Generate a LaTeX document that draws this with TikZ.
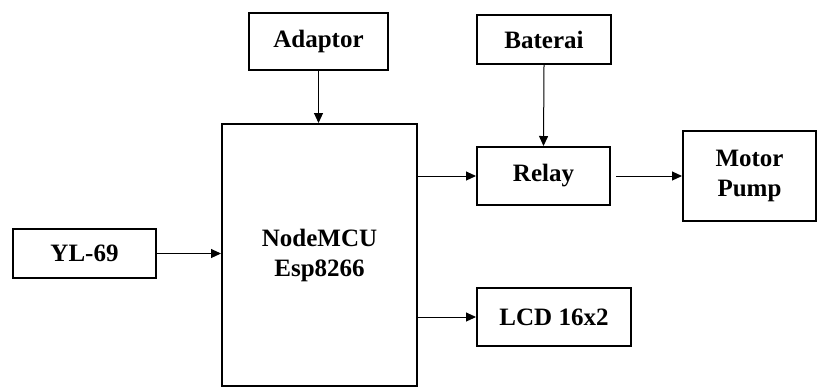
\documentclass[tikz,border=0pt]{standalone}
\usepackage{fontspec}
\setmainfont{Liberation Serif}
\usetikzlibrary{arrows.meta}
\tikzset{
  blok/.style={draw, line width=1pt, inner sep=0pt, align=center,
    font=\fontsize{12.5}{15}\selectfont\bfseries},
  ukuran/.style 2 args={minimum width=#1*0.5pt, minimum height=#2*0.5pt},
  panah/.style={line width=0.5pt, -{Triangle[length=5pt,width=4.5pt]}},
}
\begin{document}
\begin{tikzpicture}[x=0.5pt,y=-0.5pt]
  \useasboundingbox (0,0) rectangle (817,388);
  % blocks (centre, then width/height in px)
  \node[blok, ukuran={139}{57}] (adaptor) at (318.5,41.5) {Adaptor};
  \node[blok, ukuran={195}{262}] (mcu) at (319.5,255) {NodeMCU\\Esp8266};
  \node[blok, ukuran={143}{49}] (yl) at (84.5,253.5) {YL-69};
  \node[blok, ukuran={134}{49}] (baterai) at (544,39.5) {Baterai};
  \node[blok, ukuran={133}{58}] (relay) at (543.5,176) {Relay};
  \node[blok, ukuran={133}{90}] (motor) at (749.5,176) {Motor\\Pump};
  \node[blok, ukuran={154}{58}] (lcd) at (554,317) {LCD 16x2};
  % connectors
  \draw[panah] (adaptor.south) -- (adaptor.south |- mcu.north);
  \draw[panah] (yl.east) -- (yl.east -| mcu.west);
  \draw[panah] (baterai.south) -- (relay.north);
  \draw[panah] (mcu.east |- relay.west) -- (relay.west);
  \draw[panah, shorten <=2.5pt] (relay.east) -- (motor.west);
  \draw[panah] (mcu.east |- lcd.west) -- (lcd.west);
\end{tikzpicture}
\end{document}
